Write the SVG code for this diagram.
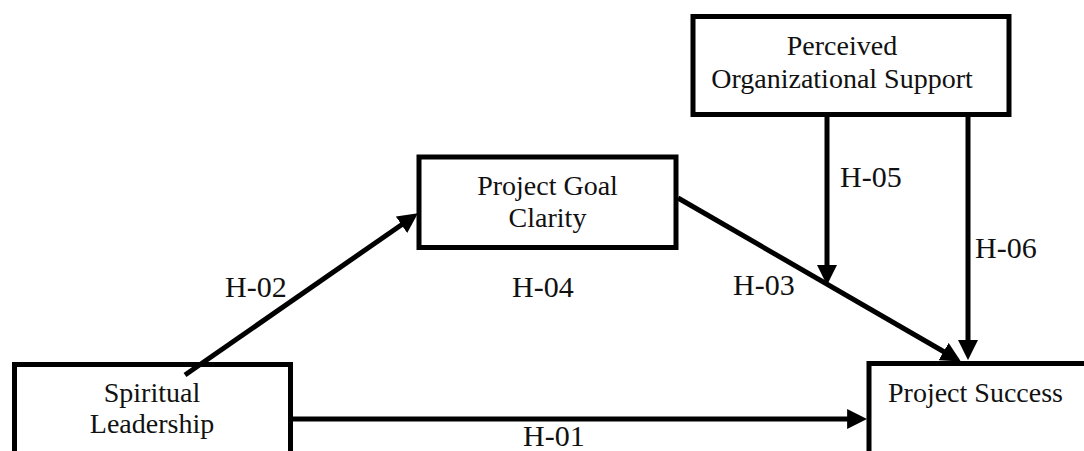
<svg xmlns="http://www.w3.org/2000/svg" width="1084" height="451" viewBox="0 0 1084 451">
<style>
.box{fill:#fff;stroke:#000;stroke-width:5}
.nt{font-family:"Liberation Serif","Times New Roman",serif;font-size:28px;fill:#111}
.lb{font-family:"Liberation Serif","Times New Roman",serif;font-size:30px;fill:#111}
.cn{stroke:#000;stroke-width:5;fill:none;marker-end:url(#ah)}
</style>
<defs>
<marker id="ah" markerUnits="userSpaceOnUse" markerWidth="20" markerHeight="20" refX="8" refY="9" orient="auto" viewBox="0 0 18 18">
<path d="M0,0 L18,9 L0,18 z" fill="#000"/>
</marker>
</defs>
<rect width="1084" height="451" fill="#fff"/>
<g id="spiritual-leadership">
<rect class="box" x="14.5" y="364.5" width="276" height="100"/>
<text class="nt" x="152" y="402" text-anchor="middle">Spiritual</text>
<text class="nt" x="152" y="433" text-anchor="middle">Leadership</text>
</g>
<g id="project-goal-clarity">
<rect class="box" x="419" y="157" width="257" height="90.5"/>
<text class="nt" x="547.5" y="195" text-anchor="middle">Project Goal</text>
<text class="nt" x="547.5" y="227" text-anchor="middle">Clarity</text>
</g>
<g id="perceived-organizational-support">
<rect class="box" x="693" y="16.5" width="316" height="98"/>
<text class="nt" x="842" y="55" text-anchor="middle">Perceived</text>
<text class="nt" x="842" y="88" text-anchor="middle">Organizational Support</text>
</g>
<g id="project-success">
<rect class="box" x="869" y="363.5" width="230" height="100"/>
<text class="nt" x="888" y="402">Project Success</text>
</g>
<g id="connectors">
<line class="cn" x1="185" y1="375" x2="408.8" y2="219.7"/>
<line class="cn" x1="678" y1="198" x2="951.3" y2="356"/>
<line class="cn" x1="827" y1="117" x2="827" y2="274"/>
<line class="cn" x1="968" y1="117" x2="968" y2="349"/>
<line class="cn" x1="292" y1="419" x2="856" y2="419"/>
<text class="lb" x="225" y="297">H-02</text>
<text class="lb" x="512" y="297">H-04</text>
<text class="lb" x="733" y="295">H-03</text>
<text class="lb" x="840" y="187">H-05</text>
<text class="lb" x="975" y="258">H-06</text>
<text class="lb" x="523" y="446">H-01</text>
</g>
</svg>
